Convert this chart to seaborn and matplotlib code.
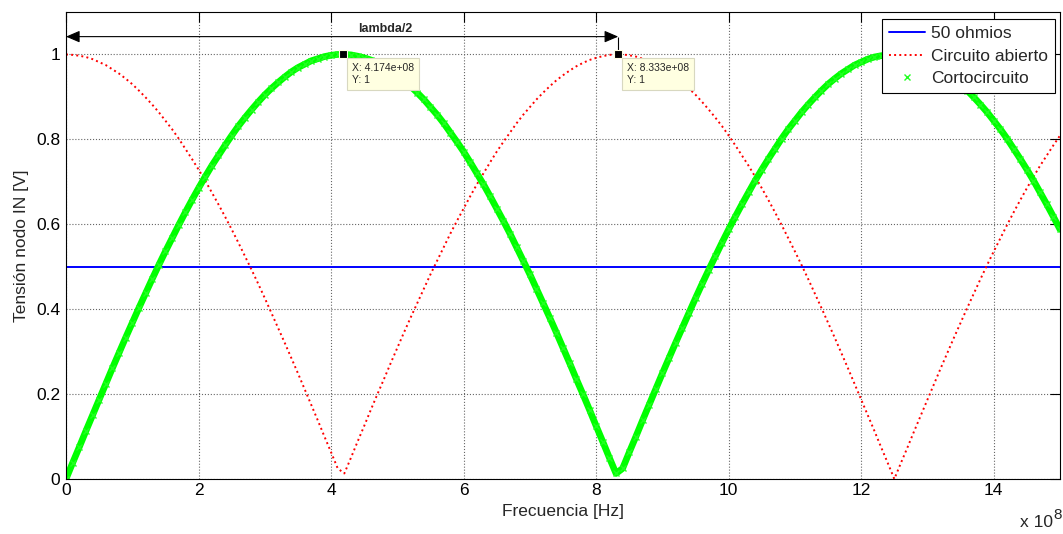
import numpy as np
import matplotlib
matplotlib.use("Agg")
import matplotlib.pyplot as plt
import seaborn as sns
from matplotlib.ticker import FuncFormatter

# ---------------- data ----------------
freq_hz = np.linspace(0, 1.5e9, 151)

open_circuit = [
    1.000, 0.999, 0.997, 0.994, 0.989, 0.982, 0.975, 0.965, 0.955, 0.943,
    0.930, 0.915, 0.899, 0.882, 0.864, 0.844, 0.824, 0.802, 0.778, 0.754,
    0.729, 0.703, 0.675, 0.647, 0.618, 0.588, 0.557, 0.525, 0.493, 0.460,
    0.426, 0.391, 0.356, 0.321, 0.285, 0.249, 0.212, 0.175, 0.138, 0.100,
    0.063, 0.025,
    0.013, 0.050, 0.088, 0.125, 0.163, 0.200, 0.236, 0.273, 0.309, 0.345,
    0.380, 0.414, 0.448, 0.482, 0.514, 0.546, 0.578, 0.608, 0.637, 0.666,
    0.694, 0.720, 0.746, 0.771, 0.794, 0.816, 0.838, 0.858, 0.876, 0.894,
    0.910, 0.925, 0.939, 0.951, 0.962, 0.972, 0.980, 0.987, 0.992, 0.996,
    0.999, 1.000,
    1.000, 0.998, 0.995, 0.990, 0.985, 0.977, 0.969, 0.959, 0.947, 0.934,
    0.920, 0.905, 0.888, 0.870, 0.851, 0.831, 0.809, 0.786, 0.762, 0.738,
    0.712, 0.685, 0.657, 0.628, 0.598, 0.567, 0.536, 0.504, 0.471, 0.437,
    0.403, 0.368, 0.333, 0.297, 0.261, 0.224, 0.187, 0.150, 0.113, 0.075,
    0.038,
    0.000, 0.038, 0.075, 0.113, 0.150, 0.187, 0.224, 0.261, 0.297, 0.333,
    0.368, 0.403, 0.437, 0.471, 0.504, 0.536, 0.567, 0.598, 0.628, 0.657,
    0.685, 0.712, 0.738, 0.762, 0.786, 0.809,
]

short_circuit = [
    0.000, 0.038, 0.075, 0.113, 0.150, 0.187, 0.224, 0.261, 0.297, 0.333,
    0.368, 0.403, 0.437, 0.471, 0.504, 0.536, 0.567, 0.598, 0.628, 0.657,
    0.685, 0.712, 0.738, 0.762, 0.786, 0.809, 0.831, 0.851, 0.870, 0.888,
    0.905, 0.920, 0.934, 0.947, 0.959, 0.969, 0.977, 0.985, 0.990, 0.995,
    0.998, 1.000,
    1.000, 0.999, 0.996, 0.992, 0.987, 0.980, 0.972, 0.962, 0.951, 0.939,
    0.925, 0.910, 0.894, 0.876, 0.858, 0.838, 0.816, 0.794, 0.771, 0.746,
    0.720, 0.694, 0.666, 0.637, 0.608, 0.578, 0.546, 0.514, 0.482, 0.448,
    0.414, 0.380, 0.345, 0.309, 0.273, 0.236, 0.200, 0.163, 0.125, 0.088,
    0.050, 0.013,
    0.025, 0.063, 0.100, 0.138, 0.175, 0.212, 0.249, 0.285, 0.321, 0.356,
    0.391, 0.426, 0.460, 0.493, 0.525, 0.557, 0.588, 0.618, 0.647, 0.675,
    0.703, 0.729, 0.754, 0.778, 0.802, 0.824, 0.844, 0.864, 0.882, 0.899,
    0.915, 0.930, 0.943, 0.955, 0.965, 0.975, 0.982, 0.989, 0.994, 0.997,
    0.999,
    1.000, 0.999, 0.997, 0.994, 0.989, 0.982, 0.975, 0.965, 0.955, 0.943,
    0.930, 0.915, 0.899, 0.882, 0.864, 0.844, 0.824, 0.802, 0.778, 0.754,
    0.729, 0.703, 0.675, 0.647, 0.618, 0.588,
]

matched_50 = [0.5] * len(freq_hz)

series_labels = ["50 ohmios", "Circuito abierto", "Cortocircuito"]
x_ticks = [0, 2e8, 4e8, 6e8, 8e8, 10e8, 12e8, 14e8]
y_ticks = [0, 0.2, 0.4, 0.6, 0.8, 1.0]

tip_x = [4.174e8, 8.333e8]
tip_y = [1, 1]
tip_text = ["X: 4.174e+08\nY: 1", "X: 8.333e+08\nY: 1"]

lambda_x = [0, 8.333e8]
lambda_y = 1.042
lambda_label = "lambda/2"

# ---------------- style ----------------
sns.set_style("white")
plt.rcParams["font.family"] = ["Liberation Sans", "DejaVu Sans"]
FS = 12.5

fig = plt.figure(figsize=(10.63, 5.34), dpi=100)
ax = fig.add_axes([0.06209, 0.10300, 0.93509, 0.87453])

sns.lineplot(x=freq_hz, y=matched_50, ax=ax, color="#0000ff", lw=1.4,
             label=series_labels[0])
sns.lineplot(x=freq_hz, y=open_circuit, ax=ax, color="#ff0000", lw=1.4,
             ls=":", label=series_labels[1])
sns.lineplot(x=freq_hz, y=short_circuit, ax=ax, color="#00ff00", lw=4.8,
             label="_band", legend=False)
sns.lineplot(x=freq_hz, y=short_circuit, ax=ax, color="#00ff00", ls="",
             marker="x", markersize=4.5, markeredgecolor="#22ff22",
             markeredgewidth=1.0, label=series_labels[2])

ax.set_xlim(0, 1.5e9)
ax.set_ylim(0, 1.1)
ax.set_xticks(x_ticks)
ax.set_yticks(y_ticks)
ax.xaxis.set_major_formatter(FuncFormatter(lambda v, p: f"{v / 1e8:g}"))
ax.yaxis.set_major_formatter(FuncFormatter(lambda v, p: f"{v:g}"))
ax.tick_params(axis="both", which="both", direction="in", length=7,
               width=0.8, top=True, right=True, labelsize=FS, colors="black")
ax.tick_params(axis="y", pad=4.3)
ax.tick_params(axis="x", pad=2.7)
ax.grid(True, ls=":", color="0.4", lw=0.8)
for s in ax.spines.values():
    s.set_visible(True)
    s.set_color("black")
    s.set_linewidth(0.8)

ax.set_xlabel("Frecuencia [Hz]", fontsize=FS)
ax.set_ylabel("Tensión nodo IN [V]", fontsize=FS)
ax.xaxis.set_label_coords(0.5, -0.053)
ax.yaxis.set_label_coords(-0.0372, 0.5)

# lambda/2 annotation
ax.annotate("", xy=(lambda_x[0], lambda_y), xytext=(lambda_x[1], lambda_y),
            arrowprops=dict(arrowstyle="<|-|>,head_length=0.7,head_width=0.3",
                            color="black", lw=0.8, shrinkA=0, shrinkB=0,
                            mutation_scale=12), annotation_clip=False)
ax.vlines(lambda_x[1], tip_y[1], lambda_y, color="black", lw=0.8)
ax.text((lambda_x[0] + lambda_x[1]) / 2 + 0.65e8, 1.059, lambda_label,
        fontsize=9, fontweight="bold", ha="center", va="center")

# data tips
sns.scatterplot(x=tip_x, y=tip_y, ax=ax, marker="s", s=34, color="black",
                edgecolor="#ffffe1", linewidth=0.8, zorder=6, legend=False)
for tx, ty, tt in zip(tip_x, tip_y, tip_text):
    ax.annotate(tt, xy=(tx, ty), xytext=(6.5, -6.5), textcoords="offset points",
                ha="left", va="top", fontsize=7.5, zorder=7,
                bbox=dict(boxstyle="square,pad=0.48", fc="#ffffe1",
                          ec="#d8d8c0", lw=0.8))

leg = ax.legend(loc="upper right", bbox_to_anchor=(0.995, 0.9844),
                borderaxespad=0, fontsize=FS, frameon=True, fancybox=False,
                edgecolor="black", framealpha=1, borderpad=0.4,
                labelspacing=0.42, handlelength=2.1, handletextpad=0.35)
leg.get_frame().set_linewidth(0.8)

fig.text(1020 / 1063, 1 - 527 / 534, "x 10", fontsize=FS, ha="left",
         va="baseline")
fig.text(1053 / 1063, 1 - 519 / 534, "8", fontsize=11, ha="left",
         va="baseline")

fig.savefig("out.png", dpi=100)
